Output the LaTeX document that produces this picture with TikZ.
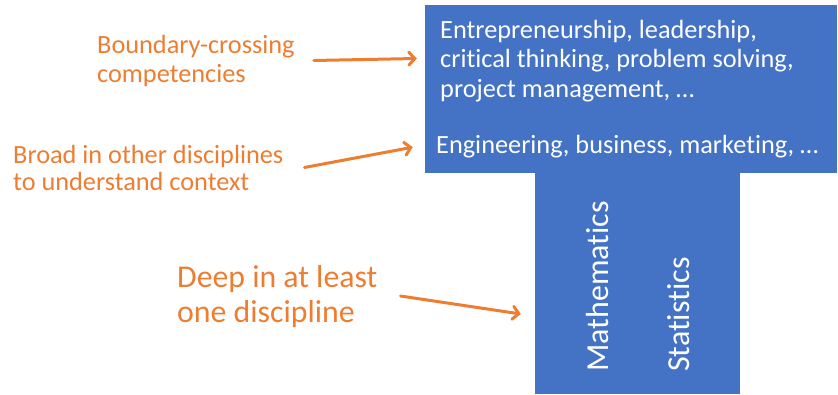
\documentclass[tikz,border=0pt]{standalone}
\usepackage{fontspec}
\setmainfont{Carlito}[Ligatures=NoCommon]
\usepackage{tikz}
\usetikzlibrary{positioning,arrows.meta,calc}
\definecolor{barclr}{RGB}{68,114,196}
\definecolor{noteclr}{RGB}{237,125,49}
\tikzset{
  bar/.style={rectangle,fill=barclr,inner sep=0pt},
  bartext/.style={text=white,inner sep=0pt,align=left,anchor=base west},
  note/.style={text=noteclr,inner sep=0pt,align=left,anchor=base west},
  pointer/.style={draw=noteclr,line width=3pt,line cap=round,
                  -{Straight Barb[length=6pt,width=13pt,line cap=round]}},
}
\newcommand{\fs}[2]{\fontsize{#1}{#2}\selectfont}

\begin{document}
\begin{tikzpicture}[x=1pt,y=-1pt]
\useasboundingbox (0,0) rectangle (838,394);
% the T: broad top bar and deep stem (base anchor = last line)
\node[bar, minimum width=412pt, minimum height=168pt] (top) at (631,89) {};
\node[bar, minimum width=205pt, minimum height=222pt] (stem) at (637.5,283) {};
\node[bartext, font=\fs{26.3}{29.5}] (skills) at (440,97)
  {Entrepreneurship, leadership,\\critical thinking, problem solving,\\project management, \dots};
\node[bartext, font=\fs{26.3}{29}] (fields) at (436,153)
  {Engineering, business, marketing, \dots};
\node[bartext, rotate=90, font=\fs{32}{35}] (math) at (608,372) {Mathematics};
\node[bartext, rotate=90, font=\fs{32}{35}] (stat) at (689,372) {Statistics};
% notes on the left
\node[note, font=\fs{26.3}{29}] (bcc) at (97,82) {Boundary-crossing\\competencies};
\node[note, font=\fs{26.3}{27}] (broad) at (13,190) {Broad in other disciplines\\to understand context};
\node[note, font=\fs{31.8}{35}] (deep) at (177,322) {Deep in at least\\one discipline};
\draw[pointer] ([xshift=19pt]bcc.east) -- ([xshift=-8pt,yshift=2pt]top.west |- bcc.east);
\draw[pointer] ([xshift=21pt]broad.east) -- ([xshift=-12pt,yshift=26pt]top.south west);
\draw[pointer] ([xshift=23pt]deep.east) -- ([xshift=-14pt,yshift=-31pt]stem.west);
\end{tikzpicture}
\end{document}
